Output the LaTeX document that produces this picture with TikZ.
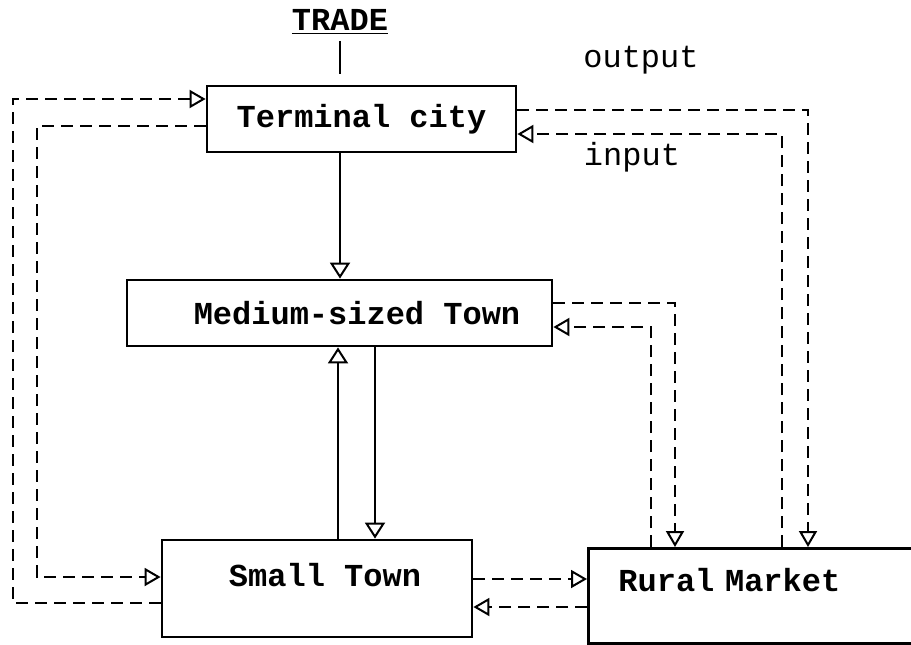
\documentclass[tikz,border=0pt]{standalone}
\usepackage{fontspec}
\setmonofont{Liberation Mono}
\usetikzlibrary{arrows.meta}

\begin{document}
\begin{tikzpicture}[
    x=0.5pt, y=-0.5pt,
    every node/.style={font=\ttfamily\bfseries\fontsize{16pt}{18pt}\selectfont},
    placebox/.style={draw, rectangle, fill=white, line width=1.4pt, inner sep=0pt},
    flowlabel/.style={font=\ttfamily\fontsize{16pt}{18pt}\selectfont, inner sep=0pt},
    goods/.style={-{Triangle[open, length=8pt, width=10pt, line width=1pt]}, line width=1.2pt},
    money/.style={-{Triangle[open, length=8pt, width=9pt, line width=1pt]}, line width=1pt, dash pattern=on 6pt off 3.5pt}
]

    \useasboundingbox (0,0) rectangle (911,644);

    % --------------------------------------------------------
    % 1. PLACES IN THE TRADE HIERARCHY
    % --------------------------------------------------------

    % Heading
    \node (trade) [inner sep=1pt] at (340,22) {\underline{TRADE}};

    % Terminal city
    \node (term) [placebox, minimum width=154.5pt, minimum height=33pt] at (361.5,119) {Terminal city};

    % Medium-sized Town
    \node (med) [placebox, minimum width=212.5pt, minimum height=33pt] at (339.5,313) {\hspace*{17.5pt}Medium-sized Town};

    % Small Town
    \node (small) [placebox, minimum width=155pt, minimum height=48.5pt, text depth=13.5pt] at (317,588.5) {\hspace*{8pt}Small Town};

    % Rural Market (runs off the right edge)
    \node (rural) [placebox, anchor=north west, align=left, text width=170pt, inner xsep=15pt, minimum height=47.5pt, text depth=16.5pt] at (587,547) {Rural Market};

    % Flow labels
    \node (outlbl) [flowlabel] at (641,60) {output};
    \node (inlbl) [flowlabel] at (632,157) {input};

    % --------------------------------------------------------
    % 2. FLOWS BETWEEN PLACES
    % --------------------------------------------------------

    % Trade enters the terminal city
    \draw [line width=1.2pt, shorten <=2pt, shorten >=5.5pt] (trade.south) -- (trade.south |- term.north);

    % Down and up the hierarchy (solid)
    \draw [goods] (term.south -| 340,0) -- (med.north -| 340,0);
    \draw [goods] (med.south -| 375,0) -- (small.north -| 375,0);
    \draw [goods] (small.north -| 338,0) -- (med.south -| 338,0);

    % Terminal city <-> Small Town (dashed, left side)
    \draw [money] (small.west |- 0,603) -| (13,99) -- (term.west |- 0,99);
    \draw [money] (term.west |- 0,126) -| (37,577) -- (small.west |- 0,577);

    % Medium-sized Town <-> Rural Market
    \draw [money] (med.east |- 0,303) -| (rural.north -| 675,0);
    \draw [money] (rural.north -| 651,0) |- (med.east |- 0,327);

    % Terminal city <-> Rural Market
    \draw [money] (term.east |- 0,110) -| (rural.north -| 808,0);
    \draw [money] (rural.north -| 782,0) |- (term.east |- 0,134);

    % Small Town <-> Rural Market
    \draw [money] (small.east |- 0,579) -- (rural.west |- 0,579);
    \draw [money] (rural.west |- 0,607) -- (small.east |- 0,607);

\end{tikzpicture}
\end{document}
